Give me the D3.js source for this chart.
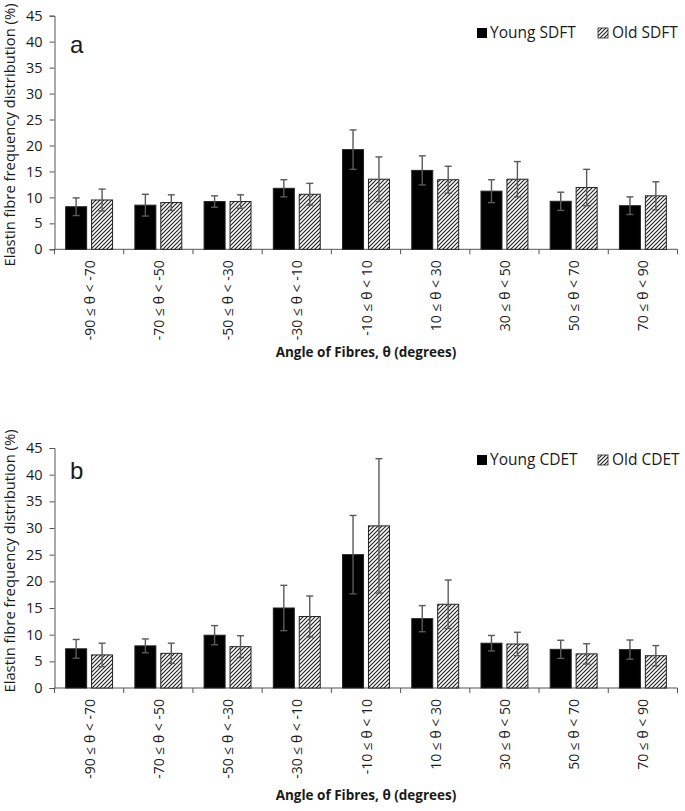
<!DOCTYPE html>
<html>
<head>
<meta charset="utf-8">
<script src="https://cdn.jsdelivr.net/npm/d3@7"></script>
<style>
  body { margin: 0; background: #fff; }
  svg { display: block; font-family: "Open Sans", sans-serif; }
</style>
</head>
<body>
<div id="chart"></div>
<script>
const categories = [
  "-90 ≤ θ < -70", "-70 ≤ θ < -50", "-50 ≤ θ < -30", "-30 ≤ θ < -10",
  "-10 ≤ θ < 10", "10 ≤ θ < 30", "30 ≤ θ < 50", "50 ≤ θ < 70", "70 ≤ θ < 90"
];
const yTicks = [0, 5, 10, 15, 20, 25, 30, 35, 40, 45];

// panel a
const youngSDFT    = [8.2, 8.5, 9.2, 11.75, 19.2, 15.2, 11.2, 9.25, 8.4];
const youngSDFTErr = [1.7, 2.1, 1.1, 1.65, 3.8, 2.8, 2.2, 1.75, 1.7];
const oldSDFT      = [9.5, 9.0, 9.2, 10.6, 13.5, 13.4, 13.5, 11.9, 10.3];
const oldSDFTErr   = [2.1, 1.5, 1.3, 2.1, 4.3, 2.6, 3.4, 3.5, 2.7];

// panel b
const youngCDET    = [7.35, 7.9, 9.9, 15.0, 25.0, 13.0, 8.4, 7.25, 7.2];
const youngCDETErr = [1.75, 1.3, 1.8, 4.25, 7.35, 2.45, 1.45, 1.7, 1.8];
const oldCDET      = [6.2, 6.5, 7.75, 13.4, 30.4, 15.7, 8.25, 6.4, 6.05];
const oldCDETErr   = [2.2, 1.9, 2.05, 3.85, 12.6, 4.55, 2.2, 1.9, 1.9];

const width = 685, height = 811;
const left = 54.5, right = 677.5;
const axisColor = "#555", textColor = "#1a1a1a";

const svg = d3.select("#chart").append("svg")
  .attr("width", width)
  .attr("height", height);

// diagonal hatch for the "old" series
const defs = svg.append("defs");
defs.append("pattern")
    .attr("id", "hatch")
    .attr("patternUnits", "userSpaceOnUse")
    .attr("width", 4)
    .attr("height", 4)
  .call(p => p.append("rect").attr("width", 4).attr("height", 4).attr("fill", "#fff"))
  .append("path")
    .attr("d", "M-1,1 l2,-2 M0,4 l4,-4 M3,5 l2,-2")
    .attr("stroke", "#222")
    .attr("stroke-width", 1.15);

function drawPanel(cfg) {
  const x = d3.scaleBand().domain(categories).range([left, right]);
  const xs = d3.scaleBand().domain(["young", "old"])
    .range([0, x.bandwidth()])
    .paddingInner(0.19)
    .paddingOuter(0.43);
  const y = d3.scaleLinear().domain([0, 45]).range([cfg.bottom, cfg.top]);

  const g = svg.append("g");

  // y axis
  const yAxis = g.append("g")
    .attr("transform", `translate(${left},0)`)
    .call(d3.axisLeft(y).tickValues(yTicks).tickSize(5).tickPadding(7));
  yAxis.select(".domain").attr("stroke", axisColor);
  yAxis.selectAll(".tick line").attr("stroke", axisColor);
  yAxis.selectAll("text")
    .attr("font-size", 14.5)
    .attr("fill", textColor)
    .attr("font-family", "Open Sans");

  // x axis line and boundary ticks
  g.append("line")
    .attr("x1", left).attr("x2", right)
    .attr("y1", y(0)).attr("y2", y(0))
    .attr("stroke", axisColor);
  const bounds = categories.map(c => x(c)).concat([x.range()[1]]);
  g.selectAll(".xtick").data(bounds).enter().append("line")
    .attr("x1", d => d).attr("x2", d => d)
    .attr("y1", y(0)).attr("y2", y(0) + 5)
    .attr("stroke", axisColor);

  g.selectAll(".xlab").data(categories).enter().append("text")
    .attr("transform", d => `translate(${x(d) + x.bandwidth() / 2},${y(0) + 11}) rotate(-90)`)
    .attr("text-anchor", "end")
    .attr("dominant-baseline", "central")
    .attr("font-size", 14)
    .attr("fill", textColor)
    .text(d => d);

  const series = [
    { key: "young", vals: cfg.young, err: cfg.youngErr, fill: "#000" },
    { key: "old", vals: cfg.old, err: cfg.oldErr, fill: "url(#hatch)" }
  ];

  series.forEach(s => {
    const rows = categories.map((c, i) => ({ c, v: s.vals[i], e: s.err[i] }));
    g.selectAll(".bar-" + s.key).data(rows).enter().append("rect")
      .attr("x", d => x(d.c) + xs(s.key))
      .attr("y", d => y(d.v))
      .attr("width", xs.bandwidth())
      .attr("height", d => y(0) - y(d.v))
      .attr("fill", s.fill)
      .attr("stroke", "#222")
      .attr("stroke-width", 1);

    const eb = g.selectAll(".err-" + s.key).data(rows).enter().append("g")
      .attr("stroke", "#5a5a5a")
      .attr("stroke-width", 1.4);
    const cx = d => x(d.c) + xs(s.key) + xs.bandwidth() / 2;
    eb.append("line")
      .attr("x1", cx).attr("x2", cx)
      .attr("y1", d => y(d.v - d.e)).attr("y2", d => y(d.v + d.e));
    eb.append("line")
      .attr("x1", d => cx(d) - 3.5).attr("x2", d => cx(d) + 3.5)
      .attr("y1", d => y(d.v + d.e)).attr("y2", d => y(d.v + d.e));
    eb.append("line")
      .attr("x1", d => cx(d) - 3.5).attr("x2", d => cx(d) + 3.5)
      .attr("y1", d => y(d.v - d.e)).attr("y2", d => y(d.v - d.e));
  });

  // panel letter
  g.append("text")
    .attr("x", 70).attr("y", cfg.letterY)
    .attr("font-family", "Liberation Sans, Arial, sans-serif")
    .attr("font-size", 24)
    .attr("fill", textColor)
    .text(cfg.letter);

  // legend
  const lg = g.append("g").attr("transform", `translate(0,${cfg.legendY})`);
  lg.append("rect").attr("x", 477).attr("y", -10).attr("width", 10).attr("height", 10)
    .attr("fill", "#000");
  lg.append("text").attr("x", 490).attr("y", 0)
    .attr("font-size", 15.5).attr("fill", textColor).text(cfg.youngName);
  lg.append("rect").attr("x", 598).attr("y", -10).attr("width", 10).attr("height", 10)
    .attr("fill", "url(#hatch)").attr("stroke", "#222").attr("stroke-width", 0.8);
  lg.append("text").attr("x", 612).attr("y", 0)
    .attr("font-size", 15.5).attr("fill", textColor).text(cfg.oldName);

  // axis titles
  g.append("text")
    .attr("x", (left + right) / 2).attr("y", cfg.xTitleY)
    .attr("text-anchor", "middle")
    .attr("font-size", 13.5)
    .attr("font-weight", "bold")
    .attr("fill", textColor)
    .text("Angle of Fibres, θ (degrees)");

  g.append("text")
    .attr("transform", `translate(9,${cfg.yTitleY}) rotate(-90)`)
    .attr("text-anchor", "middle")
    .attr("dominant-baseline", "central")
    .attr("font-size", 14.8)
    .attr("fill", textColor)
    .text("Elastin fibre frequency distribution (%)");
}

drawPanel({
  top: 15.7, bottom: 249.3,
  young: youngSDFT, youngErr: youngSDFTErr, old: oldSDFT, oldErr: oldSDFTErr,
  youngName: "Young SDFT", oldName: "Old SDFT",
  letter: "a", letterY: 53, legendY: 38, xTitleY: 357, yTitleY: 135
});

drawPanel({
  top: 448, bottom: 688,
  young: youngCDET, youngErr: youngCDETErr, old: oldCDET, oldErr: oldCDETErr,
  youngName: "Young CDET", oldName: "Old CDET",
  letter: "b", letterY: 479, legendY: 465, xTitleY: 800, yTitleY: 561
});
</script>
</body>
</html>
